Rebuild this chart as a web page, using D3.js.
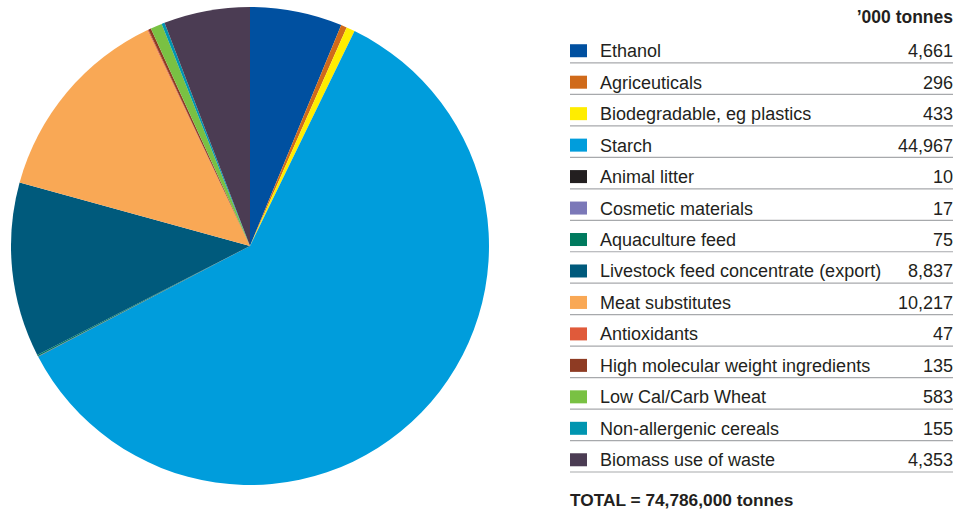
<!DOCTYPE html>
<html>
<head>
<meta charset="utf-8">
<script src="https://cdn.jsdelivr.net/npm/d3@7"></script>
<style>
  body { margin: 0; background: #fff; }
  svg text { font-family: "Liberation Sans", Arial, sans-serif; fill: #231f20; }
</style>
</head>
<body>
<div id="chart"></div>
<script>
// Data
const categories = [
    "Ethanol", "Agriceuticals", "Biodegradable, eg plastics", "Starch", "Animal litter",
    "Cosmetic materials", "Aquaculture feed", "Livestock feed concentrate (export)",
    "Meat substitutes", "Antioxidants", "High molecular weight ingredients",
    "Low Cal/Carb Wheat", "Non-allergenic cereals", "Biomass use of waste"
];
const values = [4661, 296, 433, 44967, 10, 17, 75, 8837, 10217, 47, 135, 583, 155, 4353];
const colors = [
    "#0050a0", "#d06a1a", "#ffed00", "#009ddc", "#231f20",
    "#7b78b8", "#007a5e", "#005a7c", "#f9a855", "#e05a3a",
    "#8e3b23", "#79c143", "#0095b0", "#4b3c53"
];
const unitLabel = "\u2019000 tonnes";
const totalLabel = "TOTAL = 74,786,000 tonnes";

const width = 956, height = 512;
const cx = 250, cy = 246, radius = 239;

const svg = d3.select("#chart")
    .append("svg")
    .attr("width", width)
    .attr("height", height);

const rows = categories.map((c, i) => ({ name: c, value: values[i], color: colors[i] }));

// Pie, kept in data order (clockwise from 12 o'clock)
const pie = d3.pie().sort(null).value(d => d.value);
const arc = d3.arc().innerRadius(0).outerRadius(radius);

svg.append("g")
    .attr("transform", `translate(${cx},${cy})`)
    .selectAll("path")
    .data(pie(rows))
    .enter()
    .append("path")
    .attr("d", arc)
    .attr("fill", d => d.data.color);

// Legend table
const legX = 570, legRight = 953;
const y = d3.scaleBand()
    .domain(categories)
    .range([35, 475.5])
    .paddingInner(0);

svg.append("text")
    .attr("x", legRight)
    .attr("y", 17)
    .attr("dy", "0.35em")
    .attr("text-anchor", "end")
    .style("font-weight", "bold")
    .style("font-size", "17.5px")
    .text(unitLabel);

const legend = svg.selectAll(".legend")
    .data(rows)
    .enter()
    .append("g")
    .attr("class", "legend")
    .attr("transform", d => `translate(0,${y(d.name)})`);

const bh = y.bandwidth();

legend.append("rect")
    .attr("x", legX)
    .attr("y", bh / 2 - 6.5)
    .attr("width", 17)
    .attr("height", 13)
    .attr("fill", d => d.color);

legend.append("text")
    .attr("x", 600)
    .attr("y", bh / 2)
    .attr("dy", "0.36em")
    .style("font-size", "18px")
    .text(d => d.name);

legend.append("text")
    .attr("x", legRight)
    .attr("y", bh / 2)
    .attr("dy", "0.36em")
    .attr("text-anchor", "end")
    .style("font-size", "18px")
    .text(d => d3.format(",")(d.value));

legend.append("line")
    .attr("x1", legX)
    .attr("x2", legRight)
    .attr("y1", bh - 3.5)
    .attr("y2", bh - 3.5)
    .attr("stroke", "#a7a9ac")
    .attr("stroke-width", 1.2);

svg.append("text")
    .attr("x", legX)
    .attr("y", 500)
    .attr("dy", "0.36em")
    .style("font-weight", "bold")
    .style("font-size", "17.3px")
    .text(totalLabel);
</script>
</body>
</html>
